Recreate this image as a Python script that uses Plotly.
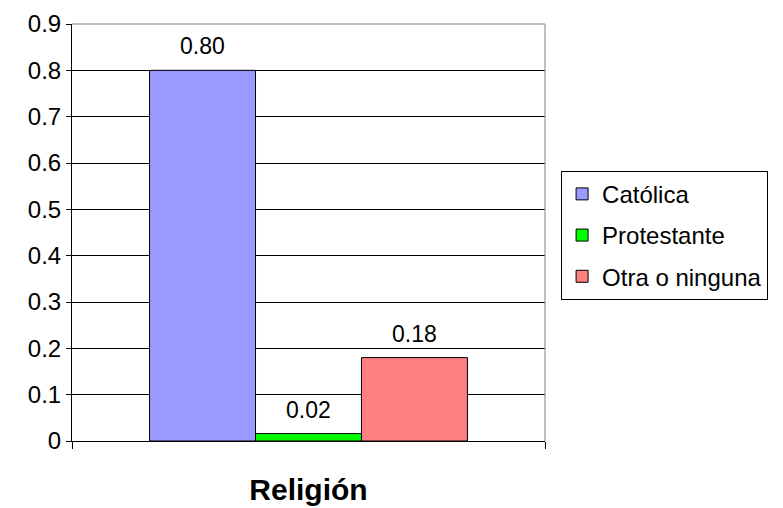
import plotly.graph_objects as go

# Data
series_names = ['Católica', 'Protestante', 'Otra o ninguna']
series_values = [0.80, 0.016, 0.18]
series_labels = ['0.80', '0.02', '0.18']
series_colors = ['#9999FF', '#00FF00', '#FF8080']
y_ticks = [0, 0.1, 0.2, 0.3, 0.4, 0.5, 0.6, 0.7, 0.8, 0.9]
y_tick_text = ['0', '0.1', '0.2', '0.3', '0.4', '0.5', '0.6', '0.7', '0.8', '0.9']
axis_title = 'Religión'

FONT = 'Liberation Sans, Arial, sans-serif'

fig = go.Figure()

for name, val, color in zip(series_names, series_values, series_colors):
    fig.add_trace(go.Bar(
        x=[0],
        y=[val],
        name=name,
        legendgroup=name,
        marker=dict(color=color, line=dict(color='black', width=1)),
        hoverinfo='name+y'
    ))

# data labels above each bar
offsets = [-1, 0, 1]
group_width = 1 - 0.328
for off, val, lab in zip(offsets, series_values, series_labels):
    fig.add_annotation(
        x=off * group_width / 3,
        y=val,
        xref='x', yref='y',
        text=lab,
        showarrow=False,
        yanchor='middle',
        yshift=24,
        font=dict(family=FONT, size=23, color='black')
    )

# top and right plot border (grey)
fig.add_shape(type='line', xref='paper', yref='paper', x0=0, x1=1, y0=1, y1=1,
              line=dict(color='#808080', width=1))
fig.add_shape(type='line', xref='paper', yref='paper', x0=1, x1=1, y0=0, y1=1,
              line=dict(color='#808080', width=1))

# page body has an 8px margin, so the figure is 8px smaller than the window
fig.update_layout(
    width=775,
    height=500,
    margin=dict(l=64, r=238, t=16, b=67, autoexpand=False),
    paper_bgcolor='white',
    plot_bgcolor='white',
    font=dict(family=FONT, size=22, color='black'),
    barmode='group',
    bargap=0.328,
    bargroupgap=0,
    showlegend=True,
    legend=dict(
        x=1.034, xanchor='left',
        y=0.648, yanchor='top',
        bordercolor='black', borderwidth=1,
        bgcolor='white',
        font=dict(family=FONT, size=24, color='black'),
        tracegroupgap=7,
        itemwidth=30,
        itemclick=False
    ),
    xaxis=dict(
        range=[-0.5, 0.5],
        tickvals=[-0.5, 0.5],
        showticklabels=False,
        ticks='outside', ticklen=7, tickcolor='black',
        showline=True, linecolor='black', linewidth=1,
        showgrid=False, zeroline=False,
        automargin=False,
        title=dict(text='<b>' + axis_title + '</b>', font=dict(family=FONT, size=30), standoff=30)
    ),
    yaxis=dict(
        range=[0, 0.9],
        tickvals=y_ticks,
        ticktext=y_tick_text,
        ticks='outside', ticklen=5, tickcolor='black',
        showline=True, linecolor='black', linewidth=1,
        showgrid=True, gridcolor='black', gridwidth=1,
        zeroline=False,
        automargin=False,
        tickfont=dict(family=FONT, size=24)
    )
)

fig.write_html("out.html")
